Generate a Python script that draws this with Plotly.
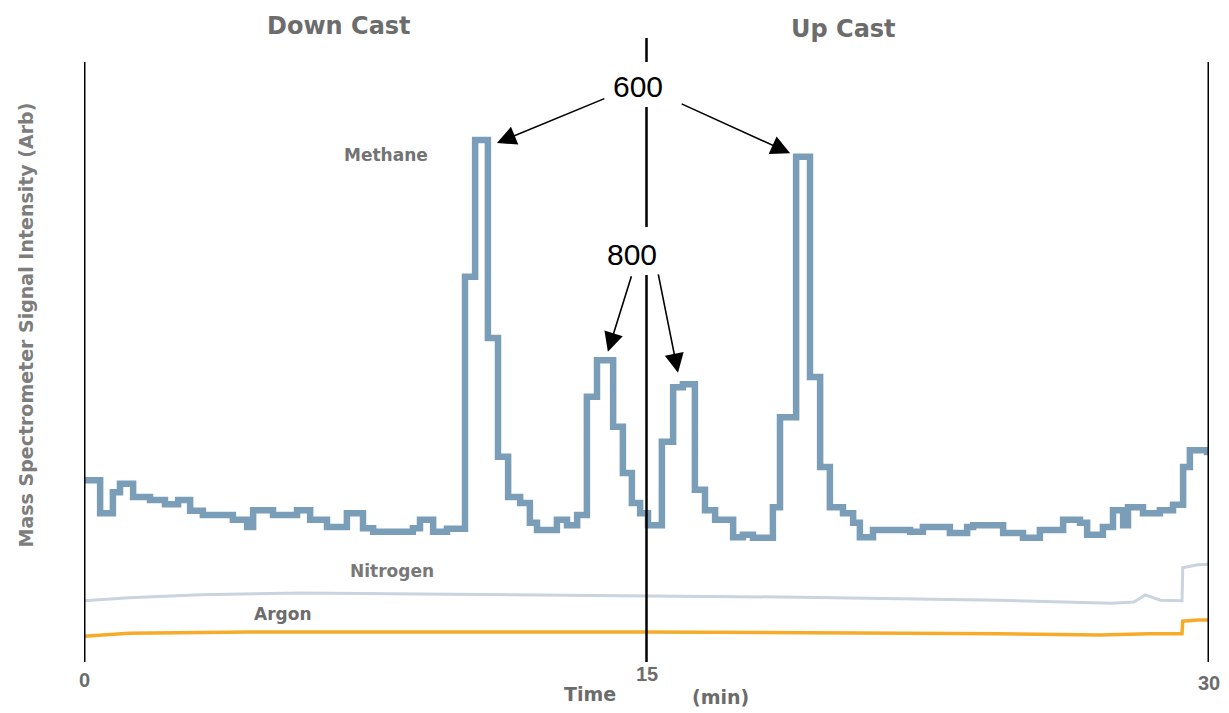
import plotly.graph_objects as go

# ---- data: time in minutes, signal in arbitrary units ----
methane_t = [0.00, 0.43, 0.77, 0.96, 1.31, 1.76, 2.16, 2.51, 2.83, 3.17,
             3.97, 4.35, 4.51, 5.04, 5.68, 6.03, 6.48, 7.01, 7.44, 7.71,
             8.77, 8.96, 9.31, 9.68, 10.16, 10.43, 10.77, 11.04, 11.31, 11.63,
             11.89, 12.08, 12.61, 12.88, 13.15, 13.41, 13.68, 14.11, 14.37, 14.61,
             14.83, 15.04, 15.41, 15.71, 15.97, 16.29, 16.56, 16.83, 17.31, 17.57,
             17.84, 18.37, 18.56, 18.99, 19.36, 19.63, 19.89, 20.24, 20.51, 20.69,
             21.04, 22.03, 22.37, 23.09, 23.55, 23.71, 24.51, 25.04, 25.49, 26.11,
             26.56, 26.75, 27.17, 27.44, 27.71, 27.84, 28.24, 28.69, 29.04, 29.31,
             29.49, 29.95, 30.00]
methane_v = [30.3, 24.8, 28.3, 29.7, 27.5, 27.0, 26.3, 27.0, 25.2, 24.5,
             23.7, 22.5, 25.3, 24.5, 25.3, 23.7, 22.5, 24.8, 22.3, 21.7,
             22.3, 23.7, 21.7, 22.2, 64.2, 87.0, 54.0, 34.2, 27.5, 26.5,
             23.2, 22.0, 23.7, 22.8, 24.5, 44.2, 50.3, 39.2, 31.5, 26.5,
             24.8, 22.8, 36.7, 45.8, 46.3, 28.7, 25.3, 23.7, 20.8, 21.2,
             20.7, 25.8, 40.8, 84.2, 47.5, 32.5, 25.8, 24.8, 23.2, 20.8,
             22.0, 21.7, 22.5, 21.5, 22.5, 22.8, 21.5, 20.7, 22.0, 23.7,
             23.2, 21.2, 22.5, 25.3, 22.8, 25.8, 24.8, 25.3, 26.2, 32.5,
             35.3, 35.0, 35.0]

nitrogen_t = [0.0, 1.2, 3.1, 5.8, 9.8, 15.0, 19.1, 24.4, 27.4, 28.0,
              28.3, 28.7, 29.28, 29.3, 29.7, 30.0]
nitrogen_v = [10.2, 10.7, 11.2, 11.5, 11.3, 11.0, 10.8, 10.3, 9.8, 10.0,
              11.2, 10.3, 10.2, 15.7, 16.2, 16.3]

argon_t = [0.0, 1.2, 4.4, 15.0, 24.4, 27.1, 28.4, 29.28, 29.3, 29.7, 30.0]
argon_v = [4.3, 4.8, 5.0, 5.0, 4.7, 4.5, 4.7, 4.7, 6.8, 7.0, 7.0]

# depth annotations (m) pointing at the methane peaks
depth_labels = ["600", "800"]
peaks_600 = [(11.01, 86.5), (18.83, 84.8)]
peaks_800 = [(13.97, 51.7), (15.84, 48.2)]

tick_vals = [0, 15, 30]
tick_text = ["0", "15", "30"]

GRAY = "#6c6c6c"
LABEL_FONT = "DejaVu Sans"

fig = go.Figure()

fig.add_trace(go.Scatter(x=nitrogen_t, y=nitrogen_v, mode="lines",
                         line=dict(color="#c9d4df", width=3),
                         showlegend=False, hoverinfo="skip"))
fig.add_trace(go.Scatter(x=argon_t, y=argon_v, mode="lines",
                         line=dict(color="#f7ab2a", width=3.5),
                         showlegend=False, hoverinfo="skip"))
fig.add_trace(go.Scatter(x=methane_t, y=methane_v, mode="lines",
                         line=dict(color="#7b9eb8", width=6.5, shape="hv"),
                         showlegend=False, hoverinfo="skip"))

# cast boundaries: start, turn-around and end of the profile
shapes = [
    dict(type="line", x0=0, x1=0, y0=0, y1=100, line=dict(color="black", width=3)),
    dict(type="line", x0=30, x1=30, y0=0, y1=100, line=dict(color="black", width=3)),
    dict(type="line", x0=15, x1=15, y0=100, y1=104, line=dict(color="black", width=2.5)),
    dict(type="line", x0=15, x1=15, y0=72.5, y1=92.5, line=dict(color="black", width=2.5)),
    dict(type="line", x0=15, x1=15, y0=0, y1=64.5, line=dict(color="black", width=2.5)),
]
for s in shapes:
    s.update(xref="x", yref="y", layer="above")

ann = []


def label(x, y, text, size, color, family=LABEL_FONT, bold=True, **kw):
    d = dict(x=x, y=y, text=text, showarrow=False, xanchor="center", yanchor="middle",
             font=dict(family=family, size=size, color=color,
                       weight="bold" if bold else "normal"))
    d.update(kw)
    ann.append(d)


# series labels
label(8.05, 84.5, "Methane", 17, "#737373")
label(8.2, 15.2, "Nitrogen", 17, "#787878")
label(5.3, 8.0, "Argon", 17, "#6c6c6c")

# cast titles
label(6.8, 1.019, "Down Cast", 24, GRAY, yref="paper")
label(20.24, 1.014, "Up Cast", 24, GRAY, yref="paper")

# depth labels
label(14.77, 96, depth_labels[0], 30, "black", family="Liberation Sans", bold=False)
label(14.61, 68, depth_labels[1], 30, "black", family="Liberation Sans", bold=False)

# arrows from depth labels to peaks (tail offsets in pixels)
arrow_offsets = [(109, -45), (-110, -50), (24, -77), (-20, -100)]
for (px, py), (ax, ay) in zip(peaks_600 + peaks_800, arrow_offsets):
    ann.append(dict(x=px, y=py, ax=ax, ay=ay, text="", showarrow=True,
                    arrowhead=2, arrowsize=2.4, arrowwidth=1.6, arrowcolor="black",
                    standoff=0, startstandoff=0))

# x tick labels (the middle one sits a bit higher)
tick_y = [-0.029, -0.019, -0.034]
for v, t, yy in zip(tick_vals, tick_text, tick_y):
    label(v, yy, t, 20, GRAY, family="Liberation Sans", yref="paper")

# axis titles
label((590 - 84) / 37.5, -0.051, "Time", 19, GRAY, yref="paper")
label((720 - 84) / 37.5, -0.056, "(min)", 19, GRAY, yref="paper")
label(-0.052, (662 - 325) / 624, "Mass Spectrometer Signal Intensity (Arb)", 19, "#7d7d7d",
      xref="paper", yref="paper", textangle=-90)

fig.update_layout(
    width=1229, height=713, autosize=False,
    margin=dict(l=84, r=20, t=38, b=51),
    paper_bgcolor="white", plot_bgcolor="white",
    xaxis=dict(range=[0, 30], visible=False, fixedrange=True),
    yaxis=dict(range=[0, 104], visible=False, fixedrange=True),
    shapes=shapes, annotations=ann,
)

fig.write_html("out.html")
